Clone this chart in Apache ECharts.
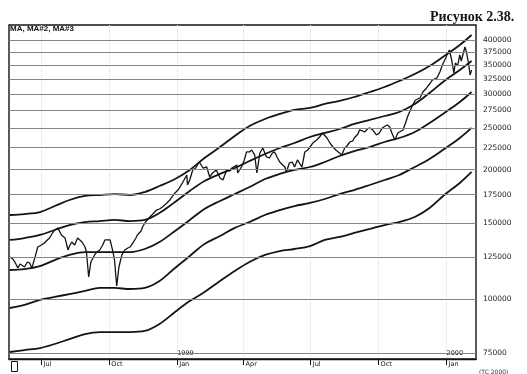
<!DOCTYPE html>
<html><head><meta charset="utf-8">
<script src="https://cdn.jsdelivr.net/npm/echarts@6/dist/echarts.min.js"></script>
<style>html,body{margin:0;padding:0;background:#fff}#c{width:527px;height:374px}</style>
</head><body><div id="c"></div>
<script>
const startDate = Date.UTC(1998, 4, 19);
const DAY = 86400000;

// y-axis tick labels (log scale)
const yTicks = [75000,100000,125000,150000,175000,200000,225000,250000,275000,300000,325000,350000,375000,400000];
// x-axis month labels
const quarterDates = ['1998-07-01','1998-10-01','1999-01-01','1999-04-01','1999-07-01','1999-10-01','2000-01-01'];
const quarterLabels = ['Jul','Oct','Jan','Apr','Jul','Oct','Jan'];
const yearDates = ['1999-01-01','2000-01-01'];
const yearLabels = ['1999','2000'];

// smooth band lines: days after start date
const bandDays = [0,20,41,61,81,102,122,142,163,183,203,224,244,264,285,305,325,346,366,386,407,427,447,467,488,508,528,549,569,589,610,626];
const ma1 = [156900,157700,159400,164600,170000,173700,174600,175500,174600,177400,183200,190200,199600,212800,225700,239400,252500,262200,269300,275100,278100,284100,288700,294900,302900,311100,321300,333500,348100,367200,389500,410900];
const ma2 = [137300,138700,141000,144800,148700,151100,151900,152800,151900,152800,158600,168200,178400,188200,195400,201700,209400,217400,224500,230600,238100,243300,248500,255300,260800,266400,272200,284100,301300,321300,340700,357500];
const ma3 = [116900,117500,119400,123300,126700,128700,128700,128700,128700,130800,135800,144000,152800,162000,169100,175500,182200,190200,195400,199600,202800,208300,215100,220900,225700,231800,236800,244600,256600,270700,287100,302900];
const ma4 = [95400,97000,99600,101200,102800,104500,106200,106200,105600,106200,110200,118200,126000,134300,140200,146400,151100,156900,161100,164600,167300,170900,175500,179300,184200,189200,194300,202800,211700,223300,236800,249900];
const ma5 = [75400,76200,77000,78700,80800,83000,83900,83900,83900,84400,87600,93400,99000,103900,110200,116300,122000,126700,129400,130800,132900,137300,139500,142500,145600,148700,151100,155200,162900,174600,186200,197500];

// price series
const priceDays = [0,4,7,11,14,16,20,24,27,30,34,38,43,47,51,54,58,61,65,68,70,75,79,81,84,88,92,95,98,102,104,107,110,112,115,118,122,126,129,131,136,140,142,145,148,152,156,160,163,167,171,173,178,180,184,190,194,199,203,207,213,217,221,224,228,230,234,240,241,244,248,252,257,262,267,271,275,280,285,289,294,298,301,308,309,314,318,321,325,328,332,335,339,343,348,352,356,359,363,366,370,373,375,379,383,386,390,396,400,404,407,411,416,420,424,430,434,438,442,444,447,450,454,457,461,465,467,472,474,478,481,485,488,492,497,501,505,509,512,515,518,522,526,528,533,537,539,542,546,550,556,560,565,569,573,579,583,587,591,593,596,599,602,604,607,610,612,617,619,622,624,626];
const priceValues = [125300,124000,122000,118200,120700,120100,118800,122000,121400,118200,124700,132200,133600,135100,137300,138700,142500,144800,146400,143300,141000,138700,130100,132900,135800,133600,138700,137300,135800,132200,128700,112600,122000,122000,126700,128700,130100,133600,137300,138700,137300,128700,123300,107300,118800,126700,130100,131500,132200,135100,138700,141000,144000,147100,151100,155200,157700,161100,162000,163800,167300,170000,173700,176500,179300,181300,186200,194300,184200,189200,199600,201700,208300,201700,202800,192300,196400,199600,191200,189200,199600,198500,201700,205000,196400,202800,210600,219800,219800,222100,216300,196400,218600,224500,214000,212800,218600,219800,212800,208300,205000,202800,197500,207200,208300,202800,210600,202800,219800,222100,225700,230600,234300,238100,243300,236800,230600,225700,222100,222100,218600,216300,224500,226900,231800,233100,236800,242000,247200,245900,244600,248500,249900,247200,240700,243300,249900,252500,253900,251200,243300,234300,243300,245900,247200,258000,265000,272200,282600,290200,293300,302900,309500,316100,323000,326500,337100,351800,363300,371200,379200,359500,335300,353700,348100,369200,357500,385300,375200,351800,331700,340700];

function ts(s){ const p = s.split('-').map(Number); return Date.UTC(p[0], p[1]-1, p[2]); }
const quarterTs = quarterDates.map(ts);
const yearTs = yearDates.map(ts);
function toPairs(days, vals){ return days.map((d,i)=>[startDate + d*DAY, vals[i]]); }

const ink = '#141414';
const xMin = startDate - DAY, xMax = startDate + 632*DAY;

const bandSeries = [ma1, ma2, ma3, ma4, ma5].map((vals, i) => ({
  type: 'line', name: 'MA' + i, data: toPairs(bandDays, vals),
  showSymbol: false, smooth: 0.35, silent: true, z: 3,
  lineStyle: { color: ink, width: 1.8 }
}));

const gridSeries = {
  type: 'line', data: [], z: 1, silent: true, clip: false,
  markLine: {
    silent: true, symbol: ['none','none'], animation: false,
    label: { show: true, position: 'end', distance: 7, formatter: p => String(p.value),
             fontFamily: 'DejaVu Sans', fontSize: 7.5, color: '#222' },
    lineStyle: { color: '#858585', width: 1, type: 'solid' },
    data: yTicks.map(v => ({ yAxis: v }))
  }
};

const priceSeries = {
  type: 'line', name: 'Price', data: toPairs(priceDays, priceValues),
  showSymbol: false, silent: true, z: 4,
  lineStyle: { color: ink, width: 1.3 }
};

const chart = echarts.init(document.getElementById('c'));
chart.setOption({
  animation: false,
  backgroundColor: '#fff',
  grid: { left: 9, right: 51, top: 25, bottom: 15, show: true, borderColor: ink, borderWidth: 1.4 },
  xAxis: [
    { type: 'value', min: xMin, max: xMax, scale: true,
      axisLine: { show: true, lineStyle: { color: ink, width: 1.4 } },
      axisTick: { show: true, customValues: quarterTs, length: 6, lineStyle: { color: ink } },
      axisLabel: { customValues: quarterTs, formatter: v => quarterLabels[quarterTs.indexOf(v)] || '',
                   align: 'left', padding: [0,0,0,2], margin: 2, fontFamily: 'DejaVu Sans', fontSize: 6.5, color: ink },
      splitLine: { show: true, lineStyle: { color: '#dddddd', type: 'dotted' } } },
    { type: 'value', min: xMin, max: xMax, scale: true, position: 'bottom',
      axisLine: { show: false }, axisTick: { show: false }, splitLine: { show: false },
      axisLabel: { inside: true, customValues: yearTs, formatter: v => yearLabels[yearTs.indexOf(v)] || '',
                   align: 'left', margin: 2, fontFamily: 'DejaVu Sans', fontSize: 6.5, color: ink } }
  ],
  yAxis: { type: 'log', min: 72630, max: 433400,
           axisLine: { show: false }, axisTick: { show: false }, axisLabel: { show: false },
           splitLine: { show: false }, minorTick: { show: false }, minorSplitLine: { show: false } },
  graphic: [
    { type: 'text', left: 430, top: 10, style: { text: 'Рисунок 2.38.', font: 'bold 14px "Liberation Serif"', fill: ink } },
    { type: 'text', left: 10, top: 25, z: 10, style: { text: 'MA, MA#2, MA#3', font: 'bold 8px "Liberation Sans"', fill: ink } },
    { type: 'text', left: 479, top: 369, style: { text: '(TC 2000)', font: '6px "DejaVu Sans"', fill: '#333' } },
    { type: 'rect', left: 9, top: 359, shape: { width: 6, height: 10 }, style: { fill: 'none', stroke: ink, lineWidth: 1 } }
  ],
  series: [gridSeries, ...bandSeries, priceSeries]
});
</script></body></html>
